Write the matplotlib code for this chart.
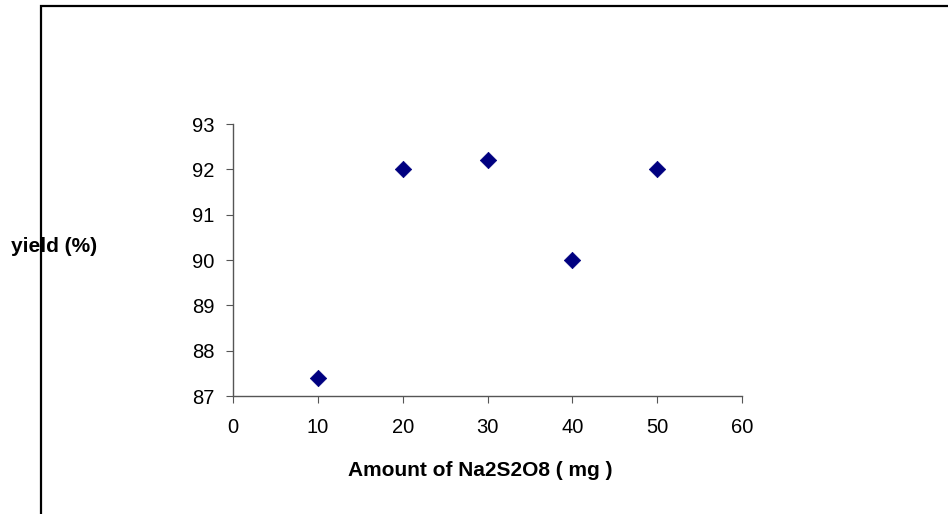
import matplotlib
matplotlib.use("Agg")
import matplotlib.pyplot as plt
from matplotlib.patches import Rectangle

amount_mg = [10, 20, 30, 40, 50]
yield_pct = [87.4, 92.0, 92.2, 90.0, 92.0]
x_ticks = [0, 10, 20, 30, 40, 50, 60]
y_ticks = [87, 88, 89, 90, 91, 92, 93]

plt.rcParams['font.family'] = ['Liberation Sans', 'DejaVu Sans']

fig = plt.figure(figsize=(9.48, 5.14), dpi=100)

# outer chart-area border (open at right and bottom)
fig.patches.append(Rectangle((41 / 948, -0.05), 1.0, 1.05 - 5.5 / 514,
                             transform=fig.transFigure, fill=False,
                             edgecolor='black', linewidth=1.6, zorder=5))

ax = fig.add_axes([233 / 948, 1 - 396 / 514, (742 - 233) / 948, (396 - 124) / 514])
ax.scatter(amount_mg, yield_pct, marker='D', s=70, color='#000080',
           edgecolors='#000080', linewidths=0.5, zorder=3, clip_on=False)

ax.set_xlim(0, 60)
ax.set_ylim(87, 93)
ax.set_xticks(x_ticks)
ax.set_yticks(y_ticks)
ax.tick_params(axis='both', direction='out', length=5, width=0.8,
               color='#555555', labelsize=14.5)
ax.tick_params(axis='x', pad=11)
ax.tick_params(axis='y', pad=8.5)
for side in ('top', 'right'):
    ax.spines[side].set_visible(False)
for side in ('left', 'bottom'):
    ax.spines[side].set_color('#555555')
    ax.spines[side].set_linewidth(1.0)

fig.text(480 / 948, 1 - 470 / 514, 'Amount of Na2S2O8 ( mg )', ha='center', va='center',
         fontsize=15, fontweight='bold')
fig.text(54 / 948, 1 - 246 / 514, 'yield (%)', ha='center', va='center',
         fontsize=15, fontweight='bold')

fig.savefig('out.png', dpi=100)
